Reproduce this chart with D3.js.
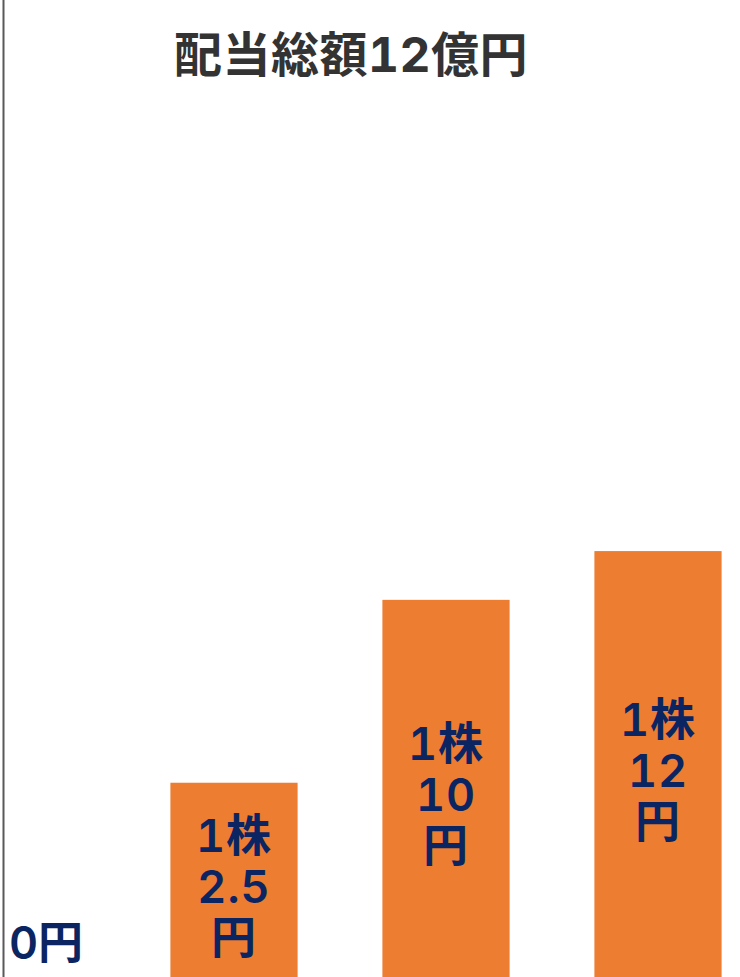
<!DOCTYPE html>
<html>
<head>
<meta charset="utf-8">
<script src="https://cdn.jsdelivr.net/npm/d3@7"></script>
<style>
  html, body { margin: 0; padding: 0; background: #fff; }
  svg { display: block; }
  text { font-variant-numeric: tabular-nums; font-feature-settings: 'tnum'; }
</style>
</head>
<body>
<svg id="chart"></svg>
<script>
/* global d3 */

const width = 740;
const height = 977;

const title = '配当総額12億円';
const categories = ['案A', '案B', '案C'];
const perShare = [2.5, 10, 12];
const perShareLabels = ['2.5', '10', '12'];
const zeroLabel = '0円';

const navy = '#0b2562';
const orange = '#ed7d31';
const fontStack = 'Inter, "Noto Sans CJK JP", sans-serif';

const svg = d3.select('#chart')
  .attr('width', width)
  .attr('height', height);

const x = d3.scaleBand()
  .domain(categories)
  .range([128, 764])
  .paddingInner(0.4)
  .paddingOuter(0.2);

// bars run a little past the bottom edge, baseline sits offscreen
const y = d3.scaleLinear()
  .domain([-6, 34.6])
  .range([990, 0]);

// axis line on the left
svg.append('line')
  .attr('x1', 3.5)
  .attr('x2', 3.5)
  .attr('y1', 0)
  .attr('y2', height)
  .style('stroke', '#595959')
  .style('stroke-width', 2);

svg.append('text')
  .text(title)
  .attr('x', 351)
  .attr('y', 72)
  .attr('text-anchor', 'middle')
  .style('font-family', fontStack)
  .style('font-weight', 700)
  .style('font-size', '48px')
  .style('letter-spacing', '0.5px')
  .style('fill', '#333');

const bars = svg.selectAll('.bar')
  .data(categories.map((c, i) => ({ c, v: perShare[i], label: perShareLabels[i] })))
  .enter().append('g')
    .attr('class', 'bar');

bars.append('rect')
  .attr('x', d => x(d.c))
  .attr('y', d => y(d.v))
  .attr('width', x.bandwidth())
  .attr('height', d => y(y.domain()[0]) - y(d.v))
  .style('fill', orange);

// three-line label centred in the bar
const lineStep = 51;
bars.each(function addLabel(d) {
  const g = d3.select(this);
  const cx = x(d.c) + x.bandwidth() / 2;
  const cy = (y(d.v) + y(y.domain()[0])) / 2;
  const lines = ['1株', d.label, '円'];
  lines.forEach((t, i) => {
    g.append('text')
      .text(t)
      .attr('x', cx)
      .attr('y', cy + (i - 1) * lineStep)
      .attr('dy', '0.36em')
      .attr('text-anchor', 'middle')
      .style('font-family', fontStack)
      .style('font-weight', 600)
      .style('font-size', '45px')
      .style('letter-spacing', '1px')
      .style('fill', navy);
  });
});

svg.append('text')
  .text(zeroLabel)
  .attr('x', 9)
  .attr('y', 959)
  .style('font-family', fontStack)
  .style('font-weight', 600)
  .style('font-size', '45px')
  .style('fill', navy);
</script>
</body>
</html>
